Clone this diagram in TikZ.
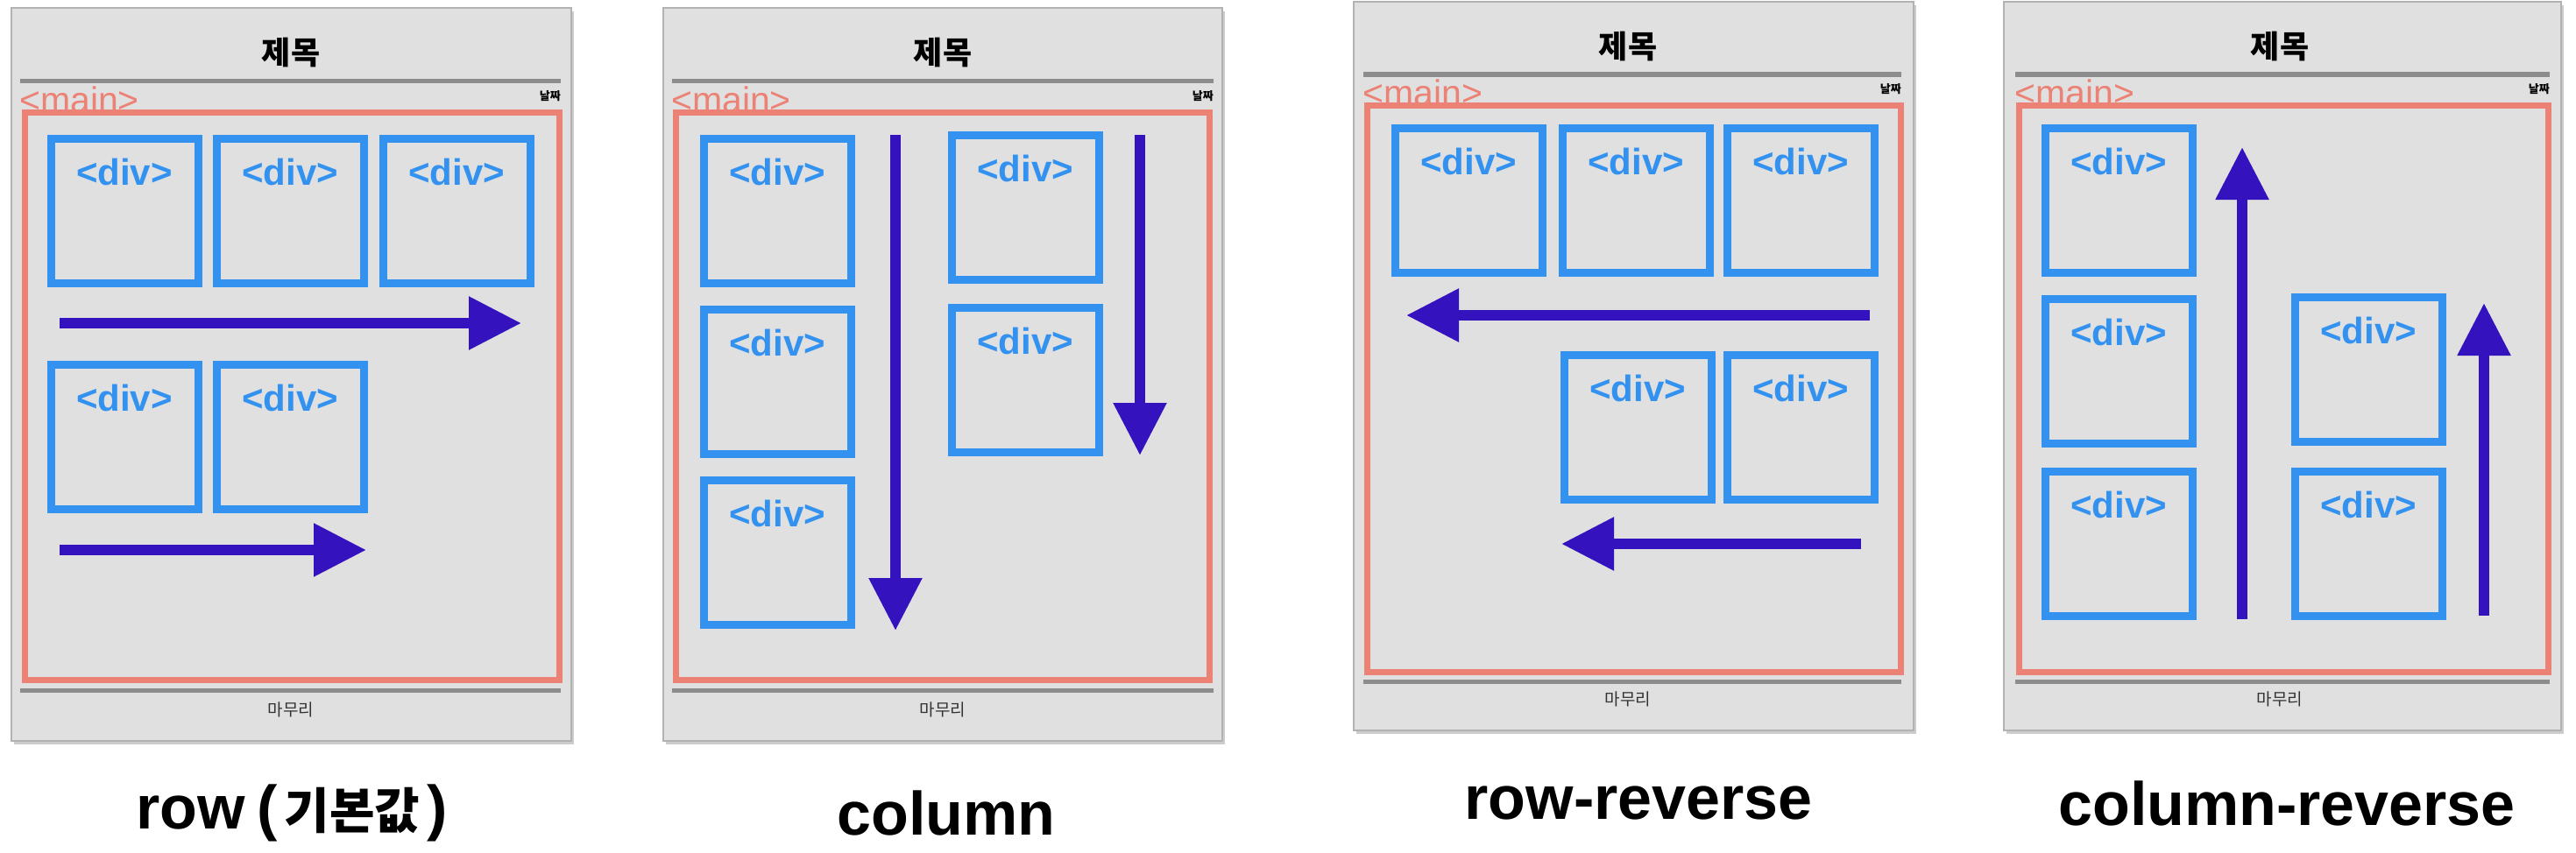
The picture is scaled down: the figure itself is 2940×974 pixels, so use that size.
\documentclass[tikz,border=0pt]{standalone}
\usepackage{fontspec}
\setmainfont{Liberation Sans}
\newfontfamily\kr{Noto Sans CJK KR}
\usetikzlibrary{arrows.meta,calc,shadows}
\definecolor{panelfill}{HTML}{E0E0E1}
\definecolor{panelborder}{HTML}{B2B2B2}
\definecolor{hdrline}{HTML}{8C8C8C}
\definecolor{mainred}{HTML}{EC8275}
\definecolor{divblue}{HTML}{3392F0}
\definecolor{arrowc}{HTML}{3413BF}
\tikzset{
  x=1pt, y=-1pt,
  panel/.style={draw=panelborder, line width=2pt, fill=panelfill, anchor=north west, inner sep=0pt, outer sep=0pt,
    drop shadow={shadow xshift=3pt, shadow yshift=-4pt, fill=black!40, opacity=0.5}},
  hline/.style={draw=hdrline, line width=5pt},
  mainbox/.style={draw=mainred, line width=7pt},
  divbox/.style={draw=divblue, line width=9pt, anchor=north west, minimum width=168pt, minimum height=165pt, inner sep=0pt, outer sep=0pt},
  divtext/.style={text=divblue, font=\fontsize{42}{48}\selectfont\bfseries, inner sep=0pt},
  maintext/.style={text=mainred, font=\fontsize{41}{46}\selectfont, anchor=west, inner sep=0pt},
  titletext/.style={font=\kr\fontsize{36}{40}\selectfont\bfseries, inner sep=0pt},
  datetext/.style={font=\kr\fontsize{13}{15}\selectfont\bfseries, anchor=east, inner sep=0pt},
  foottext/.style={font=\kr\fontsize{19}{22}\selectfont, text=black!80, inner sep=0pt},
  captext/.style={font=\fontsize{70}{80}\selectfont\bfseries, inner sep=0pt},
  flowarrow/.style={draw=arrowc, line width=12pt, -{Triangle[length=60pt, width=58pt, fill=arrowc]}},
}
\begin{document}
\begin{tikzpicture}
\useasboundingbox (0,0) rectangle (2940,974);
% ================= Panel 1: row =================
\node[panel, minimum width=639pt, minimum height=837pt] (p1) at (13,9) {};
\node[titletext] (p1t) at (332,60) {제목};
\coordinate (p1h1) at (23,92); \coordinate (p1h2) at (640,92);
\draw[hline] (p1h1) -- (p1h2);
\node[maintext] (p1m) at (22,114) {<main>};
\node[datetext] (p1d) at (640,110) {날짜};
\coordinate (p1r1) at (28,128); \coordinate (p1r2) at (638,776);
\draw[mainbox] (p1r1) rectangle (p1r2);
\coordinate (p1f1) at (23,788); \coordinate (p1f2) at (640,788);
\draw[hline] (p1f1) -- (p1f2);
\node[foottext] (p1b) at (332,810) {마무리};
\node[captext] (c1) at (333,928) {row\hspace{14pt}(\hspace{8pt}{\kr\fontsize{56}{64}\selectfont 기본값}\hspace{8pt})};
\node[divbox] (d11) at (58,158) {};
\node[divbox] (d12) at (247,158) {};
\node[divbox] (d13) at (437,158) {};
\node[divbox] (d14) at (58,416) {};
\node[divbox] (d15) at (247,416) {};
\node[divtext] (t11) at ($(d11.north)+(0,38)$) {<div>};
\node[divtext] (t12) at ($(d12.north)+(0,38)$) {<div>};
\node[divtext] (t13) at ($(d13.north)+(0,38)$) {<div>};
\node[divtext] (t14) at ($(d14.north)+(0,38)$) {<div>};
\node[divtext] (t15) at ($(d15.north)+(0,38)$) {<div>};
\coordinate (a11s) at (68,369); \coordinate (a11e) at (595,369);
\draw[flowarrow] (a11s) -- (a11e);
\coordinate (a12s) at (68,628); \coordinate (a12e) at (418,628);
\draw[flowarrow] (a12s) -- (a12e);
% ================= Panel 2: column =================
\node[panel, minimum width=638pt, minimum height=837pt] (p2) at (757,9) {};
\node[titletext] (p2t) at (1076,60) {제목};
\coordinate (p2h1) at (767,92); \coordinate (p2h2) at (1385,92);
\draw[hline] (p2h1) -- (p2h2);
\node[maintext] (p2m) at (766,114) {<main>};
\node[datetext] (p2d) at (1385,110) {날짜};
\coordinate (p2r1) at (771,128); \coordinate (p2r2) at (1380,776);
\draw[mainbox] (p2r1) rectangle (p2r2);
\coordinate (p2f1) at (767,788); \coordinate (p2f2) at (1385,788);
\draw[hline] (p2f1) -- (p2f2);
\node[foottext] (p2b) at (1076,810) {마무리};
\node[captext] (c2) at (1080,928) {column};
\node[divbox] (d21) at (803,158) {};
\node[divbox] (d22) at (803,353) {};
\node[divbox] (d23) at (803,548) {};
\node[divbox] (d24) at (1086,154) {};
\node[divbox] (d25) at (1086,351) {};
\node[divtext] (t21) at ($(d21.north)+(0,38)$) {<div>};
\node[divtext] (t22) at ($(d22.north)+(0,38)$) {<div>};
\node[divtext] (t23) at ($(d23.north)+(0,38)$) {<div>};
\node[divtext] (t24) at ($(d24.north)+(0,38)$) {<div>};
\node[divtext] (t25) at ($(d25.north)+(0,38)$) {<div>};
\coordinate (a21s) at (1022,154); \coordinate (a21e) at (1022,720);
\draw[flowarrow] (a21s) -- (a21e);
\coordinate (a22s) at (1301,154); \coordinate (a22e) at (1301,520);
\draw[flowarrow] (a22s) -- (a22e);
% ================= Panel 3: row-reverse =================
\node[panel, minimum width=639pt, minimum height=832pt] (p3) at (1545,2) {};
\node[titletext] (p3t) at (1858,53) {제목};
\coordinate (p3h1) at (1556,85); \coordinate (p3h2) at (2170,85);
\draw[hline] (p3h1) -- (p3h2);
\node[maintext] (p3m) at (1555,106) {<main>};
\node[datetext] (p3d) at (2170,102) {날짜};
\coordinate (p3r1) at (1560,120); \coordinate (p3r2) at (2169,767);
\draw[mainbox] (p3r1) rectangle (p3r2);
\coordinate (p3f1) at (1556,778); \coordinate (p3f2) at (2170,778);
\draw[hline] (p3f1) -- (p3f2);
\node[foottext] (p3b) at (1858,798) {마무리};
\node[captext] (c3) at (1870,917) {row-reverse};
\node[divbox] (d31) at (1592,146) {};
\node[divbox] (d32) at (1783,146) {};
\node[divbox] (d33) at (1971,146) {};
\node[divbox] (d34) at (1785,405) {};
\node[divbox] (d35) at (1971,405) {};
\node[divtext] (t31) at ($(d31.north)+(0,38)$) {<div>};
\node[divtext] (t32) at ($(d32.north)+(0,38)$) {<div>};
\node[divtext] (t33) at ($(d33.north)+(0,38)$) {<div>};
\node[divtext] (t34) at ($(d34.north)+(0,38)$) {<div>};
\node[divtext] (t35) at ($(d35.north)+(0,38)$) {<div>};
\coordinate (a31s) at (2134,360); \coordinate (a31e) at (1605,360);
\draw[flowarrow] (a31s) -- (a31e);
\coordinate (a32s) at (2124,621); \coordinate (a32e) at (1782,621);
\draw[flowarrow] (a32s) -- (a32e);
% ================= Panel 4: column-reverse =================
\node[panel, minimum width=636pt, minimum height=832pt] (p4) at (2287,2) {};
\node[titletext] (p4t) at (2602,53) {제목};
\coordinate (p4h1) at (2300,85); \coordinate (p4h2) at (2910,85);
\draw[hline] (p4h1) -- (p4h2);
\node[maintext] (p4m) at (2299,106) {<main>};
\node[datetext] (p4d) at (2910,102) {날짜};
\coordinate (p4r1) at (2304,120); \coordinate (p4r2) at (2908,767);
\draw[mainbox] (p4r1) rectangle (p4r2);
\coordinate (p4f1) at (2300,778); \coordinate (p4f2) at (2910,778);
\draw[hline] (p4f1) -- (p4f2);
\node[foottext] (p4b) at (2602,798) {마무리};
\node[captext] (c4) at (2610,917) {column-reverse};
\node[divbox] (d41) at (2334,146) {};
\node[divbox] (d42) at (2334,341) {};
\node[divbox] (d43) at (2334,538) {};
\node[divbox] (d44) at (2619,339) {};
\node[divbox] (d45) at (2619,538) {};
\node[divtext] (t41) at ($(d41.north)+(0,38)$) {<div>};
\node[divtext] (t42) at ($(d42.north)+(0,38)$) {<div>};
\node[divtext] (t43) at ($(d43.north)+(0,38)$) {<div>};
\node[divtext] (t44) at ($(d44.north)+(0,38)$) {<div>};
\node[divtext] (t45) at ($(d45.north)+(0,38)$) {<div>};
\coordinate (a41s) at (2559,707); \coordinate (a41e) at (2559,168);
\draw[flowarrow] (a41s) -- (a41e);
\coordinate (a42s) at (2835,703); \coordinate (a42e) at (2835,346);
\draw[flowarrow] (a42s) -- (a42e);
\end{tikzpicture}
\end{document}
